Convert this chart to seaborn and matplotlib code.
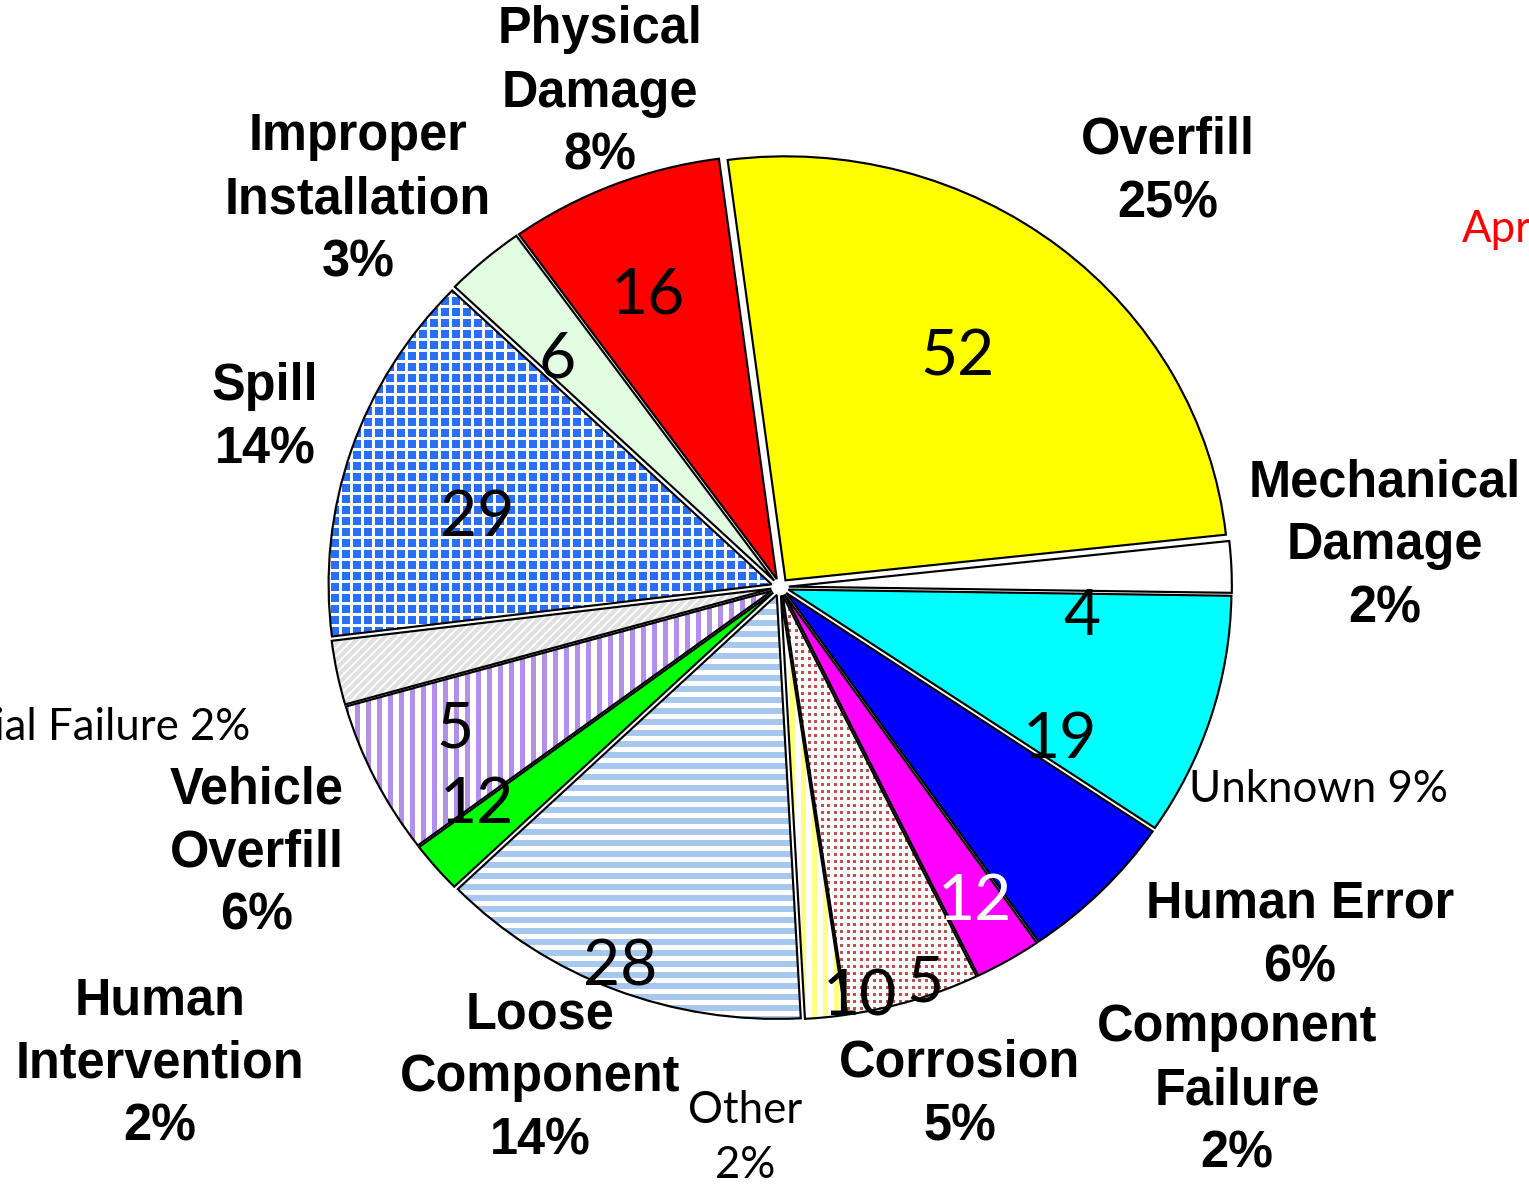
import matplotlib
matplotlib.use("Agg")
import matplotlib.pyplot as plt
import numpy as np
import seaborn as sns

# slice data, clockwise from the top
categories = ["Overfill", "Mechanical Damage", "Unknown", "Human Error",
              "Component Failure", "Corrosion", "Other", "Loose Component",
              "Human Intervention", "Vehicle Overfill", "Material Failure",
              "Spill", "Improper Installation", "Physical Damage"]
counts = [52, 4, 19, 12, 5, 10, 3, 28, 4, 12, 5, 29, 6, 16]
pct_text = ["25%", "2%", "9%", "6%", "2%", "5%", "2%", "14%", "2%", "6%",
            "2%", "14%", "3%", "8%"]
name_text = ["Overfill", "Mechanical\nDamage", "Unknown", "Human Error",
             "Component\nFailure", "Corrosion", "Other", "Loose\nComponent",
             "Human\nIntervention", "Vehicle\nOverfill", "Material Failure",
             "Spill", "Improper\nInstallation", "Physical\nDamage"]
show_count = [True, True, True, True, True, True, False, True, False, True,
              True, True, True, True]

# styles
face = ["#FFFF00", "#FFFFFF", "#00FFFF", "#0000FF", "#FF00FF", "#FFFFFF",
        "#FFFFFF", "#FFFFFF", "#00FF00", "#FFFFFF", "#E0E0E0", "#2A6EF8",
        "#E2FCE2", "#FF0000"]
# fill pattern: (kind, colour, period px, line/dot width px)
pattern = [None, None, None, None, None, ("dots", "#C0504D", 6.5, 3),
           ("v", "#FFFF80", 11, 5), ("h", "#A6C8EE", 11, 6), None,
           ("v", "#B38EEB", 11, 5), ("diag", "#FFFFFF", 6, 1.8),
           ("grid", "#FFFFFF", 11, 3), None, None]
bold_label = [True, True, False, True, True, True, False, True, True, True,
              False, True, True, True]

# layout: pie centre / scale in output pixels, label anchors in pixels
CX, CY, SX, SY = 780, 587, 443, 424
outer_px = [(1168, 172), (1385, 546), (1318, 790), (1300, 936), (1237, 1091),
            (960, 1095), (745, 1138), (540, 1078), (160, 1064), (257, 853),
            (250, 727), (265, 418), (358, 200), (600, 93)]
count_px = [(958, 358), (1082, 617), (1060, 740), (975, 902), (925, 983),
            (860, 998), None, (620, 967), None, (477, 805), (455, 730),
            (477, 518), (557, 360), (648, 295)]
count_col = ["black"] * 14
count_col[3] = "white"

DPI = 140


def to_data(p):
    return (p[0] - CX) / SX, (CY - p[1]) / SY


def fill_pattern(ax, w, kind, color, period, width):
    # texture lines/dots clipped to one wedge
    x0, y0, x1, y1 = w.get_path().get_extents().extents
    lw = width * 72 / DPI
    line_kw = dict(color=color, lw=lw, clip_path=w, zorder=2,
                   solid_capstyle="butt")
    if kind in ("h", "grid"):
        for y in np.arange(y0, y1, period / SY):
            ax.axhline(y, **line_kw)
    if kind in ("v", "grid"):
        for x in np.arange(x0, x1, period / SX):
            ax.axvline(x, **line_kw)
    if kind == "diag":
        slope = SX / SY
        for b in np.arange(y0 - slope * x1, y1 - slope * x0,
                           period * 1.414 / SY):
            ax.axline((0, b), slope=slope, **line_kw)
    if kind == "dots":
        gx, gy = np.meshgrid(np.arange(x0, x1, period / SX),
                             np.arange(y0, y1, (period + 0.5) / SY))
        side = width * 72 / DPI
        ax.scatter(gx.ravel(), gy.ravel(), s=side ** 2, marker="s",
                   color=color, linewidths=0, clip_path=w, zorder=2)


sns.set_theme(style="white")
plt.rcParams["font.family"] = ["Liberation Sans", "DejaVu Sans"]
plt.rcParams["text.color"] = "black"

fig = plt.figure(figsize=(1529 / DPI, 1185 / DPI), dpi=DPI)
ax = fig.add_axes([0, 0, 1, 1])

explode = [0.02] * len(counts)
pie_kw = dict(explode=explode, startangle=97.5, counterclock=False)

# fills
fills, _ = ax.pie(counts, colors=face, wedgeprops=dict(linewidth=0), **pie_kw)
for w, p in zip(fills, pattern):
    if p is not None:
        fill_pattern(ax, w, *p)

# outlines
outlines, _ = ax.pie(counts, wedgeprops=dict(facecolor="none",
                                             edgecolor="black", linewidth=1.1),
                     **pie_kw)
for w in outlines:
    w.set_zorder(3)

ax.set_aspect("auto")
ax.set_xlim(-CX / SX, (1529 - CX) / SX)
ax.set_ylim(-(1185 - CY) / SY, CY / SY)
ax.axis("off")

for i, cat in enumerate(categories):
    x, y = to_data(outer_px[i])
    if bold_label[i]:
        ax.text(x, y, name_text[i] + "\n" + pct_text[i], ha="center",
                va="center", fontsize=26, fontweight="bold", linespacing=1.38,
                family=["Liberation Sans", "DejaVu Sans"], zorder=5)
    else:
        sep = "\n" if cat == "Other" else " "
        ha = "right" if cat == "Material Failure" else "center"
        ax.text(x, y, name_text[i] + sep + pct_text[i], ha=ha, va="center",
                fontsize=22.5, linespacing=1.45,
                family=["Lato", "DejaVu Sans"], zorder=5)
    if show_count[i]:
        cx, cy = to_data(count_px[i])
        ax.text(cx, cy, str(counts[i]), ha="center", va="center", fontsize=33,
                color=count_col[i], family=["Lato", "DejaVu Sans"], zorder=5)

ax.text(*to_data((1462, 230)), "April", ha="left", va="center", fontsize=22.5,
        color="red", family=["Lato", "DejaVu Sans"], zorder=5)

fig.savefig("out.png", dpi=DPI)
